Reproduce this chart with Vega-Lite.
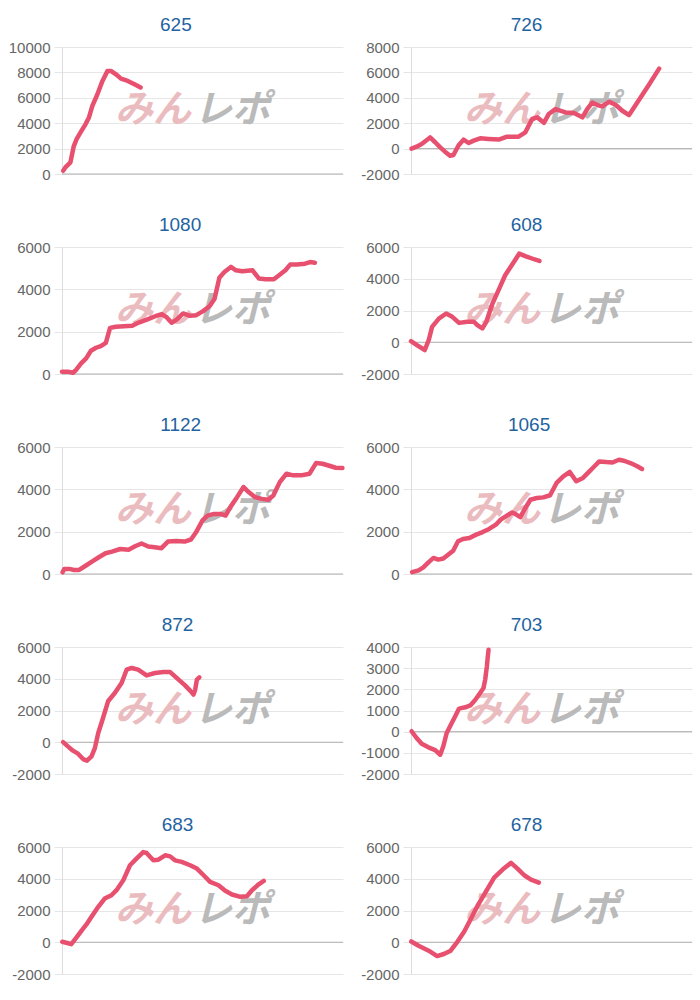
{
  "$schema": "https://vega.github.io/schema/vega-lite/v6.json",
  "padding": {"left": 8, "top": 16, "right": 5, "bottom": 5},
  "background": "white",
  "columns": 2,
  "spacing": {"row": 73, "column": 68},
  "bounds": "flush",
  "align": "all",
  "datasets": {
    "p625": [{"x":0.4,"y":260},{"x":1.2,"y":520},{"x":3.0,"y":920},{"x":4.2,"y":2200},{"x":5.2,"y":2750},{"x":6.6,"y":3270},{"x":8.4,"y":3930},{"x":9.6,"y":4450},{"x":10.8,"y":5370},{"x":12.6,"y":6280},{"x":14.4,"y":7330},{"x":16.2,"y":8120},{"x":17.4,"y":8120},{"x":19.2,"y":7850},{"x":21.0,"y":7510},{"x":23.4,"y":7330},{"x":25.8,"y":7070},{"x":28.0,"y":6810}],
    "p726": [{"x":0.2,"y":0},{"x":2.0,"y":150},{"x":3.8,"y":360},{"x":6.8,"y":880},{"x":8.6,"y":500},{"x":10.4,"y":100},{"x":12.1,"y":-240},{"x":13.9,"y":-560},{"x":15.1,"y":-500},{"x":16.9,"y":240},{"x":18.7,"y":710},{"x":20.5,"y":440},{"x":22.3,"y":630},{"x":24.6,"y":810},{"x":27.6,"y":760},{"x":31.2,"y":710},{"x":34.2,"y":940},{"x":38.3,"y":940},{"x":40.7,"y":1280},{"x":43.1,"y":2330},{"x":44.9,"y":2460},{"x":47.3,"y":2030},{"x":49.0,"y":2720},{"x":51.4,"y":3110},{"x":55.0,"y":2850},{"x":58.0,"y":2800},{"x":61.0,"y":2460},{"x":62.7,"y":3110},{"x":64.5,"y":3630},{"x":66.3,"y":3430},{"x":68.1,"y":3320},{"x":70.5,"y":3690},{"x":72.9,"y":3430},{"x":75.2,"y":2980},{"x":77.6,"y":2640},{"x":80.0,"y":3450},{"x":82.4,"y":4260},{"x":84.8,"y":5070},{"x":86.5,"y":5670},{"x":88.3,"y":6300}],
    "p1080": [{"x":0,"y":110},{"x":2.1,"y":110},{"x":3.9,"y":60},{"x":5.0,"y":190},{"x":6.8,"y":500},{"x":8.6,"y":740},{"x":10.3,"y":1100},{"x":12.1,"y":1240},{"x":13.8,"y":1320},{"x":15.6,"y":1470},{"x":17.1,"y":2180},{"x":19.1,"y":2230},{"x":22.0,"y":2260},{"x":25.0,"y":2280},{"x":27.3,"y":2430},{"x":30.2,"y":2570},{"x":33.2,"y":2730},{"x":35.5,"y":2830},{"x":37.3,"y":2670},{"x":39.0,"y":2420},{"x":40.8,"y":2570},{"x":43.1,"y":2860},{"x":45.5,"y":2750},{"x":47.8,"y":2780},{"x":50.2,"y":2970},{"x":52.5,"y":3200},{"x":54.3,"y":3560},{"x":56.0,"y":4550},{"x":57.8,"y":4820},{"x":60.1,"y":5060},{"x":61.9,"y":4900},{"x":64.2,"y":4850},{"x":67.8,"y":4900},{"x":70.1,"y":4510},{"x":72.5,"y":4480},{"x":75.4,"y":4480},{"x":77.7,"y":4710},{"x":79.5,"y":4900},{"x":81.2,"y":5170},{"x":83.6,"y":5170},{"x":86.5,"y":5210},{"x":88.3,"y":5290},{"x":90.0,"y":5260}],
    "p608": [{"x":0,"y":70},{"x":2.1,"y":-180},{"x":4.9,"y":-490},{"x":6.3,"y":130},{"x":7.5,"y":970},{"x":9.9,"y":1490},{"x":12.5,"y":1810},{"x":14.7,"y":1600},{"x":17.1,"y":1220},{"x":20.0,"y":1290},{"x":22.4,"y":1290},{"x":23.6,"y":1080},{"x":25.4,"y":870},{"x":26.8,"y":1290},{"x":29.0,"y":2440},{"x":31.4,"y":3380},{"x":33.5,"y":4220},{"x":36.2,"y":4950},{"x":38.5,"y":5580},{"x":40.9,"y":5410},{"x":43.3,"y":5260},{"x":45.7,"y":5120}],
    "p1122": [{"x":0.2,"y":80},{"x":0.8,"y":240},{"x":2.6,"y":240},{"x":4.3,"y":190},{"x":6.1,"y":190},{"x":8.4,"y":390},{"x":10.8,"y":600},{"x":13.1,"y":790},{"x":15.5,"y":980},{"x":17.8,"y":1060},{"x":20.7,"y":1180},{"x":23.7,"y":1150},{"x":26.0,"y":1310},{"x":28.3,"y":1440},{"x":30.7,"y":1300},{"x":33.0,"y":1260},{"x":35.4,"y":1220},{"x":37.7,"y":1530},{"x":40.6,"y":1560},{"x":43.6,"y":1530},{"x":45.9,"y":1630},{"x":47.7,"y":1970},{"x":50.0,"y":2530},{"x":51.8,"y":2760},{"x":54.1,"y":2840},{"x":56.4,"y":2840},{"x":58.2,"y":2760},{"x":59.9,"y":3160},{"x":62.3,"y":3630},{"x":64.6,"y":4110},{"x":66.4,"y":3870},{"x":68.7,"y":3630},{"x":71.1,"y":3550},{"x":73.4,"y":3510},{"x":75.2,"y":3710},{"x":77.5,"y":4340},{"x":79.9,"y":4740},{"x":82.2,"y":4660},{"x":85.1,"y":4660},{"x":88.1,"y":4740},{"x":90.4,"y":5240},{"x":92.7,"y":5210},{"x":95.7,"y":5090},{"x":97.4,"y":5020},{"x":99.8,"y":5010}],
    "p1065": [{"x":0.4,"y":90},{"x":2.7,"y":170},{"x":4.4,"y":310},{"x":6.2,"y":550},{"x":8.0,"y":760},{"x":9.7,"y":680},{"x":11.5,"y":730},{"x":13.2,"y":910},{"x":15.0,"y":1100},{"x":16.7,"y":1540},{"x":18.5,"y":1650},{"x":20.8,"y":1700},{"x":23.2,"y":1860},{"x":25.5,"y":1980},{"x":27.8,"y":2130},{"x":30.2,"y":2330},{"x":31.9,"y":2570},{"x":33.7,"y":2720},{"x":36.0,"y":2910},{"x":37.2,"y":2830},{"x":38.9,"y":2690},{"x":40.7,"y":3120},{"x":42.5,"y":3510},{"x":44.8,"y":3590},{"x":47.1,"y":3620},{"x":49.5,"y":3720},{"x":51.8,"y":4300},{"x":54.2,"y":4610},{"x":56.5,"y":4820},{"x":58.8,"y":4380},{"x":61.2,"y":4540},{"x":63.5,"y":4850},{"x":65.3,"y":5090},{"x":67.0,"y":5320},{"x":69.4,"y":5290},{"x":71.7,"y":5270},{"x":74.0,"y":5400},{"x":75.8,"y":5350},{"x":78.1,"y":5240},{"x":80.5,"y":5090},{"x":82.2,"y":4960}],
    "p872": [{"x":0.4,"y":10},{"x":2.1,"y":-260},{"x":3.9,"y":-530},{"x":5.7,"y":-720},{"x":7.5,"y":-1060},{"x":8.9,"y":-1160},{"x":10.5,"y":-890},{"x":11.7,"y":-370},{"x":12.9,"y":580},{"x":14.6,"y":1530},{"x":16.4,"y":2580},{"x":18.8,"y":3100},{"x":21.2,"y":3730},{"x":23.0,"y":4570},{"x":24.8,"y":4680},{"x":27.1,"y":4570},{"x":30.1,"y":4210},{"x":33.1,"y":4360},{"x":36.1,"y":4420},{"x":38.5,"y":4420},{"x":40.8,"y":4050},{"x":43.8,"y":3580},{"x":45.6,"y":3250},{"x":46.8,"y":3000},{"x":47.4,"y":3310},{"x":48.0,"y":3940},{"x":48.9,"y":4090}],
    "p703": [{"x":0.2,"y":20},{"x":2.0,"y":-300},{"x":3.8,"y":-570},{"x":6.2,"y":-740},{"x":8.6,"y":-870},{"x":10.4,"y":-1090},{"x":11.5,"y":-690},{"x":12.7,"y":-60},{"x":14.5,"y":410},{"x":15.7,"y":720},{"x":17.1,"y":1090},{"x":19.3,"y":1150},{"x":21.1,"y":1240},{"x":22.9,"y":1510},{"x":24.6,"y":1830},{"x":25.8,"y":2060},{"x":26.4,"y":2460},{"x":27.0,"y":3090},{"x":27.4,"y":3640},{"x":27.6,"y":3870}],
    "p683": [{"x":0.1,"y":30},{"x":1.5,"y":-30},{"x":3.3,"y":-120},{"x":4.9,"y":240},{"x":6.9,"y":720},{"x":8.7,"y":1120},{"x":10.5,"y":1600},{"x":12.9,"y":2230},{"x":15.2,"y":2750},{"x":17.6,"y":2960},{"x":19.4,"y":3280},{"x":21.8,"y":3900},{"x":24.2,"y":4850},{"x":26.5,"y":5270},{"x":28.9,"y":5680},{"x":30.1,"y":5620},{"x":32.5,"y":5160},{"x":34.3,"y":5200},{"x":36.7,"y":5480},{"x":38.5,"y":5410},{"x":40.2,"y":5160},{"x":42.6,"y":5060},{"x":45.6,"y":4850},{"x":48.0,"y":4640},{"x":50.4,"y":4220},{"x":52.7,"y":3800},{"x":55.7,"y":3590},{"x":58.1,"y":3240},{"x":60.5,"y":3010},{"x":63.5,"y":2860},{"x":65.8,"y":2900},{"x":67.6,"y":3280},{"x":70.0,"y":3650},{"x":71.8,"y":3860}],
    "p678": [{"x":0.1,"y":50},{"x":2.7,"y":-220},{"x":6.3,"y":-530},{"x":9.3,"y":-870},{"x":11.7,"y":-740},{"x":14.1,"y":-530},{"x":16.5,"y":30},{"x":18.9,"y":660},{"x":21.2,"y":1430},{"x":23.6,"y":2270},{"x":26.6,"y":3170},{"x":29.6,"y":4070},{"x":32.6,"y":4580},{"x":35.6,"y":5000},{"x":37.9,"y":4640},{"x":40.3,"y":4220},{"x":42.7,"y":3950},{"x":45.5,"y":3760}]
  },
  "concat": [
    {"title": "625", "width": 281, "height": 127, "layer": [
      {"data": {"values": [{}]}, "mark": {"type": "rule", "color": "#b0b0b0", "strokeWidth": 1}, "encoding": {"y": {"datum": 0, "type": "quantitative", "scale": {"domain": [0, 10000], "nice": false, "zero": false}, "axis": {"values": [0, 2000, 4000, 6000, 8000, 10000]}}}},
      {"data": {"values": [{}]}, "mark": {"type": "text", "text": "みん", "font": "Noto Sans CJK JP", "fontSize": 38, "fontWeight": "bold", "fontStyle": "italic", "color": "#ebbcbf"}, "encoding": {"x": {"datum": 32.4, "type": "quantitative", "scale": {"domain": [0, 100]}, "axis": null}, "y": {"datum": 5000, "type": "quantitative", "scale": {"domain": [0, 10000], "nice": false, "zero": false}, "axis": {"values": [0, 2000, 4000, 6000, 8000, 10000]}}}},
      {"data": {"values": [{}]}, "mark": {"type": "text", "text": "レポ", "font": "Noto Sans CJK JP", "fontSize": 38, "fontWeight": "bold", "fontStyle": "italic", "color": "#bababa"}, "encoding": {"x": {"datum": 60.5, "type": "quantitative", "scale": {"domain": [0, 100]}, "axis": null}, "y": {"datum": 5000, "type": "quantitative", "scale": {"domain": [0, 10000], "nice": false, "zero": false}, "axis": {"values": [0, 2000, 4000, 6000, 8000, 10000]}}}},
      {"data": {"name": "p625"}, "mark": {"type": "line", "color": "#e8506f", "strokeWidth": 4.5, "strokeJoin": "round", "strokeCap": "round"}, "encoding": {"x": {"field": "x", "type": "quantitative", "scale": {"domain": [0, 100]}, "axis": null}, "y": {"field": "y", "type": "quantitative", "scale": {"domain": [0, 10000], "nice": false, "zero": false}, "axis": {"values": [0, 2000, 4000, 6000, 8000, 10000]}}}}
    ]},
    {"title": "726", "width": 281, "height": 127, "layer": [
      {"data": {"values": [{}]}, "mark": {"type": "rule", "color": "#b0b0b0", "strokeWidth": 1}, "encoding": {"y": {"datum": 0, "type": "quantitative", "scale": {"domain": [-2000, 8000], "nice": false, "zero": false}, "axis": {"values": [-2000, 0, 2000, 4000, 6000, 8000]}}}},
      {"data": {"values": [{}]}, "mark": {"type": "text", "text": "みん", "font": "Noto Sans CJK JP", "fontSize": 38, "fontWeight": "bold", "fontStyle": "italic", "color": "#ebbcbf"}, "encoding": {"x": {"datum": 32.4, "type": "quantitative", "scale": {"domain": [0, 100]}, "axis": null}, "y": {"datum": 3000, "type": "quantitative", "scale": {"domain": [-2000, 8000], "nice": false, "zero": false}, "axis": {"values": [-2000, 0, 2000, 4000, 6000, 8000]}}}},
      {"data": {"values": [{}]}, "mark": {"type": "text", "text": "レポ", "font": "Noto Sans CJK JP", "fontSize": 38, "fontWeight": "bold", "fontStyle": "italic", "color": "#bababa"}, "encoding": {"x": {"datum": 60.5, "type": "quantitative", "scale": {"domain": [0, 100]}, "axis": null}, "y": {"datum": 3000, "type": "quantitative", "scale": {"domain": [-2000, 8000], "nice": false, "zero": false}, "axis": {"values": [-2000, 0, 2000, 4000, 6000, 8000]}}}},
      {"data": {"name": "p726"}, "mark": {"type": "line", "color": "#e8506f", "strokeWidth": 4.5, "strokeJoin": "round", "strokeCap": "round"}, "encoding": {"x": {"field": "x", "type": "quantitative", "scale": {"domain": [0, 100]}, "axis": null}, "y": {"field": "y", "type": "quantitative", "scale": {"domain": [-2000, 8000], "nice": false, "zero": false}, "axis": {"values": [-2000, 0, 2000, 4000, 6000, 8000]}}}}
    ]},
    {"title": "1080", "width": 281, "height": 127, "layer": [
      {"data": {"values": [{}]}, "mark": {"type": "rule", "color": "#b0b0b0", "strokeWidth": 1}, "encoding": {"y": {"datum": 0, "type": "quantitative", "scale": {"domain": [0, 6000], "nice": false, "zero": false}, "axis": {"values": [0, 2000, 4000, 6000]}}}},
      {"data": {"values": [{}]}, "mark": {"type": "text", "text": "みん", "font": "Noto Sans CJK JP", "fontSize": 38, "fontWeight": "bold", "fontStyle": "italic", "color": "#ebbcbf"}, "encoding": {"x": {"datum": 32.4, "type": "quantitative", "scale": {"domain": [0, 100]}, "axis": null}, "y": {"datum": 3000, "type": "quantitative", "scale": {"domain": [0, 6000], "nice": false, "zero": false}, "axis": {"values": [0, 2000, 4000, 6000]}}}},
      {"data": {"values": [{}]}, "mark": {"type": "text", "text": "レポ", "font": "Noto Sans CJK JP", "fontSize": 38, "fontWeight": "bold", "fontStyle": "italic", "color": "#bababa"}, "encoding": {"x": {"datum": 60.5, "type": "quantitative", "scale": {"domain": [0, 100]}, "axis": null}, "y": {"datum": 3000, "type": "quantitative", "scale": {"domain": [0, 6000], "nice": false, "zero": false}, "axis": {"values": [0, 2000, 4000, 6000]}}}},
      {"data": {"name": "p1080"}, "mark": {"type": "line", "color": "#e8506f", "strokeWidth": 4.5, "strokeJoin": "round", "strokeCap": "round"}, "encoding": {"x": {"field": "x", "type": "quantitative", "scale": {"domain": [0, 100]}, "axis": null}, "y": {"field": "y", "type": "quantitative", "scale": {"domain": [0, 6000], "nice": false, "zero": false}, "axis": {"values": [0, 2000, 4000, 6000]}}}}
    ]},
    {"title": "608", "width": 281, "height": 127, "layer": [
      {"data": {"values": [{}]}, "mark": {"type": "rule", "color": "#b0b0b0", "strokeWidth": 1}, "encoding": {"y": {"datum": 0, "type": "quantitative", "scale": {"domain": [-2000, 6000], "nice": false, "zero": false}, "axis": {"values": [-2000, 0, 2000, 4000, 6000]}}}},
      {"data": {"values": [{}]}, "mark": {"type": "text", "text": "みん", "font": "Noto Sans CJK JP", "fontSize": 38, "fontWeight": "bold", "fontStyle": "italic", "color": "#ebbcbf"}, "encoding": {"x": {"datum": 32.4, "type": "quantitative", "scale": {"domain": [0, 100]}, "axis": null}, "y": {"datum": 2000, "type": "quantitative", "scale": {"domain": [-2000, 6000], "nice": false, "zero": false}, "axis": {"values": [-2000, 0, 2000, 4000, 6000]}}}},
      {"data": {"values": [{}]}, "mark": {"type": "text", "text": "レポ", "font": "Noto Sans CJK JP", "fontSize": 38, "fontWeight": "bold", "fontStyle": "italic", "color": "#bababa"}, "encoding": {"x": {"datum": 60.5, "type": "quantitative", "scale": {"domain": [0, 100]}, "axis": null}, "y": {"datum": 2000, "type": "quantitative", "scale": {"domain": [-2000, 6000], "nice": false, "zero": false}, "axis": {"values": [-2000, 0, 2000, 4000, 6000]}}}},
      {"data": {"name": "p608"}, "mark": {"type": "line", "color": "#e8506f", "strokeWidth": 4.5, "strokeJoin": "round", "strokeCap": "round"}, "encoding": {"x": {"field": "x", "type": "quantitative", "scale": {"domain": [0, 100]}, "axis": null}, "y": {"field": "y", "type": "quantitative", "scale": {"domain": [-2000, 6000], "nice": false, "zero": false}, "axis": {"values": [-2000, 0, 2000, 4000, 6000]}}}}
    ]},
    {"title": "1122", "width": 281, "height": 127, "layer": [
      {"data": {"values": [{}]}, "mark": {"type": "rule", "color": "#b0b0b0", "strokeWidth": 1}, "encoding": {"y": {"datum": 0, "type": "quantitative", "scale": {"domain": [0, 6000], "nice": false, "zero": false}, "axis": {"values": [0, 2000, 4000, 6000]}}}},
      {"data": {"values": [{}]}, "mark": {"type": "text", "text": "みん", "font": "Noto Sans CJK JP", "fontSize": 38, "fontWeight": "bold", "fontStyle": "italic", "color": "#ebbcbf"}, "encoding": {"x": {"datum": 32.4, "type": "quantitative", "scale": {"domain": [0, 100]}, "axis": null}, "y": {"datum": 3000, "type": "quantitative", "scale": {"domain": [0, 6000], "nice": false, "zero": false}, "axis": {"values": [0, 2000, 4000, 6000]}}}},
      {"data": {"values": [{}]}, "mark": {"type": "text", "text": "レポ", "font": "Noto Sans CJK JP", "fontSize": 38, "fontWeight": "bold", "fontStyle": "italic", "color": "#bababa"}, "encoding": {"x": {"datum": 60.5, "type": "quantitative", "scale": {"domain": [0, 100]}, "axis": null}, "y": {"datum": 3000, "type": "quantitative", "scale": {"domain": [0, 6000], "nice": false, "zero": false}, "axis": {"values": [0, 2000, 4000, 6000]}}}},
      {"data": {"name": "p1122"}, "mark": {"type": "line", "color": "#e8506f", "strokeWidth": 4.5, "strokeJoin": "round", "strokeCap": "round"}, "encoding": {"x": {"field": "x", "type": "quantitative", "scale": {"domain": [0, 100]}, "axis": null}, "y": {"field": "y", "type": "quantitative", "scale": {"domain": [0, 6000], "nice": false, "zero": false}, "axis": {"values": [0, 2000, 4000, 6000]}}}}
    ]},
    {"title": "1065", "width": 281, "height": 127, "layer": [
      {"data": {"values": [{}]}, "mark": {"type": "rule", "color": "#b0b0b0", "strokeWidth": 1}, "encoding": {"y": {"datum": 0, "type": "quantitative", "scale": {"domain": [0, 6000], "nice": false, "zero": false}, "axis": {"values": [0, 2000, 4000, 6000]}}}},
      {"data": {"values": [{}]}, "mark": {"type": "text", "text": "みん", "font": "Noto Sans CJK JP", "fontSize": 38, "fontWeight": "bold", "fontStyle": "italic", "color": "#ebbcbf"}, "encoding": {"x": {"datum": 32.4, "type": "quantitative", "scale": {"domain": [0, 100]}, "axis": null}, "y": {"datum": 3000, "type": "quantitative", "scale": {"domain": [0, 6000], "nice": false, "zero": false}, "axis": {"values": [0, 2000, 4000, 6000]}}}},
      {"data": {"values": [{}]}, "mark": {"type": "text", "text": "レポ", "font": "Noto Sans CJK JP", "fontSize": 38, "fontWeight": "bold", "fontStyle": "italic", "color": "#bababa"}, "encoding": {"x": {"datum": 60.5, "type": "quantitative", "scale": {"domain": [0, 100]}, "axis": null}, "y": {"datum": 3000, "type": "quantitative", "scale": {"domain": [0, 6000], "nice": false, "zero": false}, "axis": {"values": [0, 2000, 4000, 6000]}}}},
      {"data": {"name": "p1065"}, "mark": {"type": "line", "color": "#e8506f", "strokeWidth": 4.5, "strokeJoin": "round", "strokeCap": "round"}, "encoding": {"x": {"field": "x", "type": "quantitative", "scale": {"domain": [0, 100]}, "axis": null}, "y": {"field": "y", "type": "quantitative", "scale": {"domain": [0, 6000], "nice": false, "zero": false}, "axis": {"values": [0, 2000, 4000, 6000]}}}}
    ]},
    {"title": "872", "width": 281, "height": 127, "layer": [
      {"data": {"values": [{}]}, "mark": {"type": "rule", "color": "#b0b0b0", "strokeWidth": 1}, "encoding": {"y": {"datum": 0, "type": "quantitative", "scale": {"domain": [-2000, 6000], "nice": false, "zero": false}, "axis": {"values": [-2000, 0, 2000, 4000, 6000]}}}},
      {"data": {"values": [{}]}, "mark": {"type": "text", "text": "みん", "font": "Noto Sans CJK JP", "fontSize": 38, "fontWeight": "bold", "fontStyle": "italic", "color": "#ebbcbf"}, "encoding": {"x": {"datum": 32.4, "type": "quantitative", "scale": {"domain": [0, 100]}, "axis": null}, "y": {"datum": 2000, "type": "quantitative", "scale": {"domain": [-2000, 6000], "nice": false, "zero": false}, "axis": {"values": [-2000, 0, 2000, 4000, 6000]}}}},
      {"data": {"values": [{}]}, "mark": {"type": "text", "text": "レポ", "font": "Noto Sans CJK JP", "fontSize": 38, "fontWeight": "bold", "fontStyle": "italic", "color": "#bababa"}, "encoding": {"x": {"datum": 60.5, "type": "quantitative", "scale": {"domain": [0, 100]}, "axis": null}, "y": {"datum": 2000, "type": "quantitative", "scale": {"domain": [-2000, 6000], "nice": false, "zero": false}, "axis": {"values": [-2000, 0, 2000, 4000, 6000]}}}},
      {"data": {"name": "p872"}, "mark": {"type": "line", "color": "#e8506f", "strokeWidth": 4.5, "strokeJoin": "round", "strokeCap": "round"}, "encoding": {"x": {"field": "x", "type": "quantitative", "scale": {"domain": [0, 100]}, "axis": null}, "y": {"field": "y", "type": "quantitative", "scale": {"domain": [-2000, 6000], "nice": false, "zero": false}, "axis": {"values": [-2000, 0, 2000, 4000, 6000]}}}}
    ]},
    {"title": "703", "width": 281, "height": 127, "layer": [
      {"data": {"values": [{}]}, "mark": {"type": "rule", "color": "#b0b0b0", "strokeWidth": 1}, "encoding": {"y": {"datum": 0, "type": "quantitative", "scale": {"domain": [-2000, 4000], "nice": false, "zero": false}, "axis": {"values": [-2000, -1000, 0, 1000, 2000, 3000, 4000]}}}},
      {"data": {"values": [{}]}, "mark": {"type": "text", "text": "みん", "font": "Noto Sans CJK JP", "fontSize": 38, "fontWeight": "bold", "fontStyle": "italic", "color": "#ebbcbf"}, "encoding": {"x": {"datum": 32.4, "type": "quantitative", "scale": {"domain": [0, 100]}, "axis": null}, "y": {"datum": 1000, "type": "quantitative", "scale": {"domain": [-2000, 4000], "nice": false, "zero": false}, "axis": {"values": [-2000, -1000, 0, 1000, 2000, 3000, 4000]}}}},
      {"data": {"values": [{}]}, "mark": {"type": "text", "text": "レポ", "font": "Noto Sans CJK JP", "fontSize": 38, "fontWeight": "bold", "fontStyle": "italic", "color": "#bababa"}, "encoding": {"x": {"datum": 60.5, "type": "quantitative", "scale": {"domain": [0, 100]}, "axis": null}, "y": {"datum": 1000, "type": "quantitative", "scale": {"domain": [-2000, 4000], "nice": false, "zero": false}, "axis": {"values": [-2000, -1000, 0, 1000, 2000, 3000, 4000]}}}},
      {"data": {"name": "p703"}, "mark": {"type": "line", "color": "#e8506f", "strokeWidth": 4.5, "strokeJoin": "round", "strokeCap": "round"}, "encoding": {"x": {"field": "x", "type": "quantitative", "scale": {"domain": [0, 100]}, "axis": null}, "y": {"field": "y", "type": "quantitative", "scale": {"domain": [-2000, 4000], "nice": false, "zero": false}, "axis": {"values": [-2000, -1000, 0, 1000, 2000, 3000, 4000]}}}}
    ]},
    {"title": "683", "width": 281, "height": 127, "layer": [
      {"data": {"values": [{}]}, "mark": {"type": "rule", "color": "#b0b0b0", "strokeWidth": 1}, "encoding": {"y": {"datum": 0, "type": "quantitative", "scale": {"domain": [-2000, 6000], "nice": false, "zero": false}, "axis": {"values": [-2000, 0, 2000, 4000, 6000]}}}},
      {"data": {"values": [{}]}, "mark": {"type": "text", "text": "みん", "font": "Noto Sans CJK JP", "fontSize": 38, "fontWeight": "bold", "fontStyle": "italic", "color": "#ebbcbf"}, "encoding": {"x": {"datum": 32.4, "type": "quantitative", "scale": {"domain": [0, 100]}, "axis": null}, "y": {"datum": 2000, "type": "quantitative", "scale": {"domain": [-2000, 6000], "nice": false, "zero": false}, "axis": {"values": [-2000, 0, 2000, 4000, 6000]}}}},
      {"data": {"values": [{}]}, "mark": {"type": "text", "text": "レポ", "font": "Noto Sans CJK JP", "fontSize": 38, "fontWeight": "bold", "fontStyle": "italic", "color": "#bababa"}, "encoding": {"x": {"datum": 60.5, "type": "quantitative", "scale": {"domain": [0, 100]}, "axis": null}, "y": {"datum": 2000, "type": "quantitative", "scale": {"domain": [-2000, 6000], "nice": false, "zero": false}, "axis": {"values": [-2000, 0, 2000, 4000, 6000]}}}},
      {"data": {"name": "p683"}, "mark": {"type": "line", "color": "#e8506f", "strokeWidth": 4.5, "strokeJoin": "round", "strokeCap": "round"}, "encoding": {"x": {"field": "x", "type": "quantitative", "scale": {"domain": [0, 100]}, "axis": null}, "y": {"field": "y", "type": "quantitative", "scale": {"domain": [-2000, 6000], "nice": false, "zero": false}, "axis": {"values": [-2000, 0, 2000, 4000, 6000]}}}}
    ]},
    {"title": "678", "width": 281, "height": 127, "layer": [
      {"data": {"values": [{}]}, "mark": {"type": "rule", "color": "#b0b0b0", "strokeWidth": 1}, "encoding": {"y": {"datum": 0, "type": "quantitative", "scale": {"domain": [-2000, 6000], "nice": false, "zero": false}, "axis": {"values": [-2000, 0, 2000, 4000, 6000]}}}},
      {"data": {"values": [{}]}, "mark": {"type": "text", "text": "みん", "font": "Noto Sans CJK JP", "fontSize": 38, "fontWeight": "bold", "fontStyle": "italic", "color": "#ebbcbf"}, "encoding": {"x": {"datum": 32.4, "type": "quantitative", "scale": {"domain": [0, 100]}, "axis": null}, "y": {"datum": 2000, "type": "quantitative", "scale": {"domain": [-2000, 6000], "nice": false, "zero": false}, "axis": {"values": [-2000, 0, 2000, 4000, 6000]}}}},
      {"data": {"values": [{}]}, "mark": {"type": "text", "text": "レポ", "font": "Noto Sans CJK JP", "fontSize": 38, "fontWeight": "bold", "fontStyle": "italic", "color": "#bababa"}, "encoding": {"x": {"datum": 60.5, "type": "quantitative", "scale": {"domain": [0, 100]}, "axis": null}, "y": {"datum": 2000, "type": "quantitative", "scale": {"domain": [-2000, 6000], "nice": false, "zero": false}, "axis": {"values": [-2000, 0, 2000, 4000, 6000]}}}},
      {"data": {"name": "p678"}, "mark": {"type": "line", "color": "#e8506f", "strokeWidth": 4.5, "strokeJoin": "round", "strokeCap": "round"}, "encoding": {"x": {"field": "x", "type": "quantitative", "scale": {"domain": [0, 100]}, "axis": null}, "y": {"field": "y", "type": "quantitative", "scale": {"domain": [-2000, 6000], "nice": false, "zero": false}, "axis": {"values": [-2000, 0, 2000, 4000, 6000]}}}}
    ]}
  ],
  "config": {
    "view": {"stroke": null},
    "title": {"font": "Liberation Sans", "fontSize": 19, "fontWeight": "normal", "color": "#1f63a1", "frame": "bounds", "anchor": "middle", "offset": 5},
    "axisY": {"title": null, "grid": true, "gridColor": "#e6e6e6", "gridWidth": 1, "domain": true, "domainColor": "#dddddd", "domainWidth": 1, "ticks": true, "tickSize": 8, "tickWidth": 1, "tickColor": "#e6e6e6", "labelFont": "Liberation Sans", "labelFontSize": 15, "labelColor": "#666666", "labelPadding": 4, "labelExpr": "toString(datum.value)"}
  }
}
